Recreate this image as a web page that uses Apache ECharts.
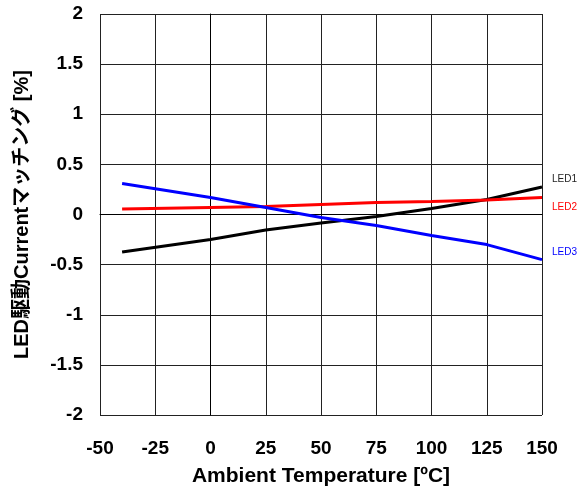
<!DOCTYPE html>
<html><head><meta charset="utf-8">
<script src="https://cdn.jsdelivr.net/npm/echarts@6/dist/echarts.min.js"></script>
<style>html,body{margin:0;padding:0;background:#fff}#c{width:585px;height:493px}</style>
</head><body><div id="c"></div>
<script>
const temps = [-40, 0, 25, 50, 75, 100, 125, 150];
const led1 = [-0.375, -0.25, -0.155, -0.085, -0.02, 0.06, 0.15, 0.275];
const led2 = [0.055, 0.07, 0.08, 0.10, 0.12, 0.13, 0.145, 0.17];
const led3 = [0.31, 0.17, 0.07, -0.03, -0.11, -0.21, -0.30, -0.45];
const xTicks = [-50, -25, 0, 25, 50, 75, 100, 125, 150];
const yTicks = [-2, -1.5, -1, -0.5, 0, 0.5, 1, 1.5, 2];
const seriesNames = ['LED1', 'LED2', 'LED3'];
const colors = ['#000000', '#ff0000', '#0000ff'];
const labelOffsets = [[2, -8], [2, 10], [2, -7]];

const font = '"Liberation Sans", Arial, "Noto Sans CJK JP", sans-serif';
const chart = echarts.init(document.getElementById('c'));
const dataSets = [led1, led2, led3];
chart.setOption({
  animation: false,
  grid: {left: 100, right: 43, top: 14, bottom: 78},
  xAxis: {
    type: 'value', min: xTicks[0], max: xTicks[xTicks.length - 1], interval: 25,
    name: 'Ambient Temperature [ºC]', nameLocation: 'middle', nameGap: 51,
    nameTextStyle: {fontFamily: font, fontWeight: 'bold', fontSize: 21, color: '#000'},
    axisLine: {show: true, lineStyle: {color: '#000', width: 1}},
    axisTick: {show: false},
    axisLabel: {fontFamily: font, fontWeight: 'bold', fontSize: 19, color: '#000', margin: 24},
    splitLine: {show: true, lineStyle: {color: '#222', width: 1}}
  },
  yAxis: {
    type: 'value', min: yTicks[0], max: yTicks[yTicks.length - 1], interval: 0.5,
    name: 'LED駆動Currentマッチング [%]', nameLocation: 'middle', nameGap: 68,
    nameTextStyle: {fontFamily: font, fontWeight: 'bold', fontSize: 20, color: '#000'},
    axisLine: {show: true, lineStyle: {color: '#000', width: 1}},
    axisTick: {show: false},
    axisLabel: {fontFamily: font, fontWeight: 'bold', fontSize: 19, color: '#000', margin: 17},
    splitLine: {show: true, lineStyle: {color: '#222', width: 1}}
  },
  series: seriesNames.map((n, i) => ({
    name: n, type: 'line', showSymbol: false, symbol: 'none',
    data: temps.map((t, k) => [t, dataSets[i][k]]),
    lineStyle: {color: colors[i], width: 3},
    itemStyle: {color: colors[i]},
    endLabel: {show: true, formatter: '{a}', color: colors[i] === '#000000' ? '#222' : colors[i],
      fontFamily: font, fontSize: 10, offset: labelOffsets[i], distance: 8}
  }))
});
</script></body></html>
